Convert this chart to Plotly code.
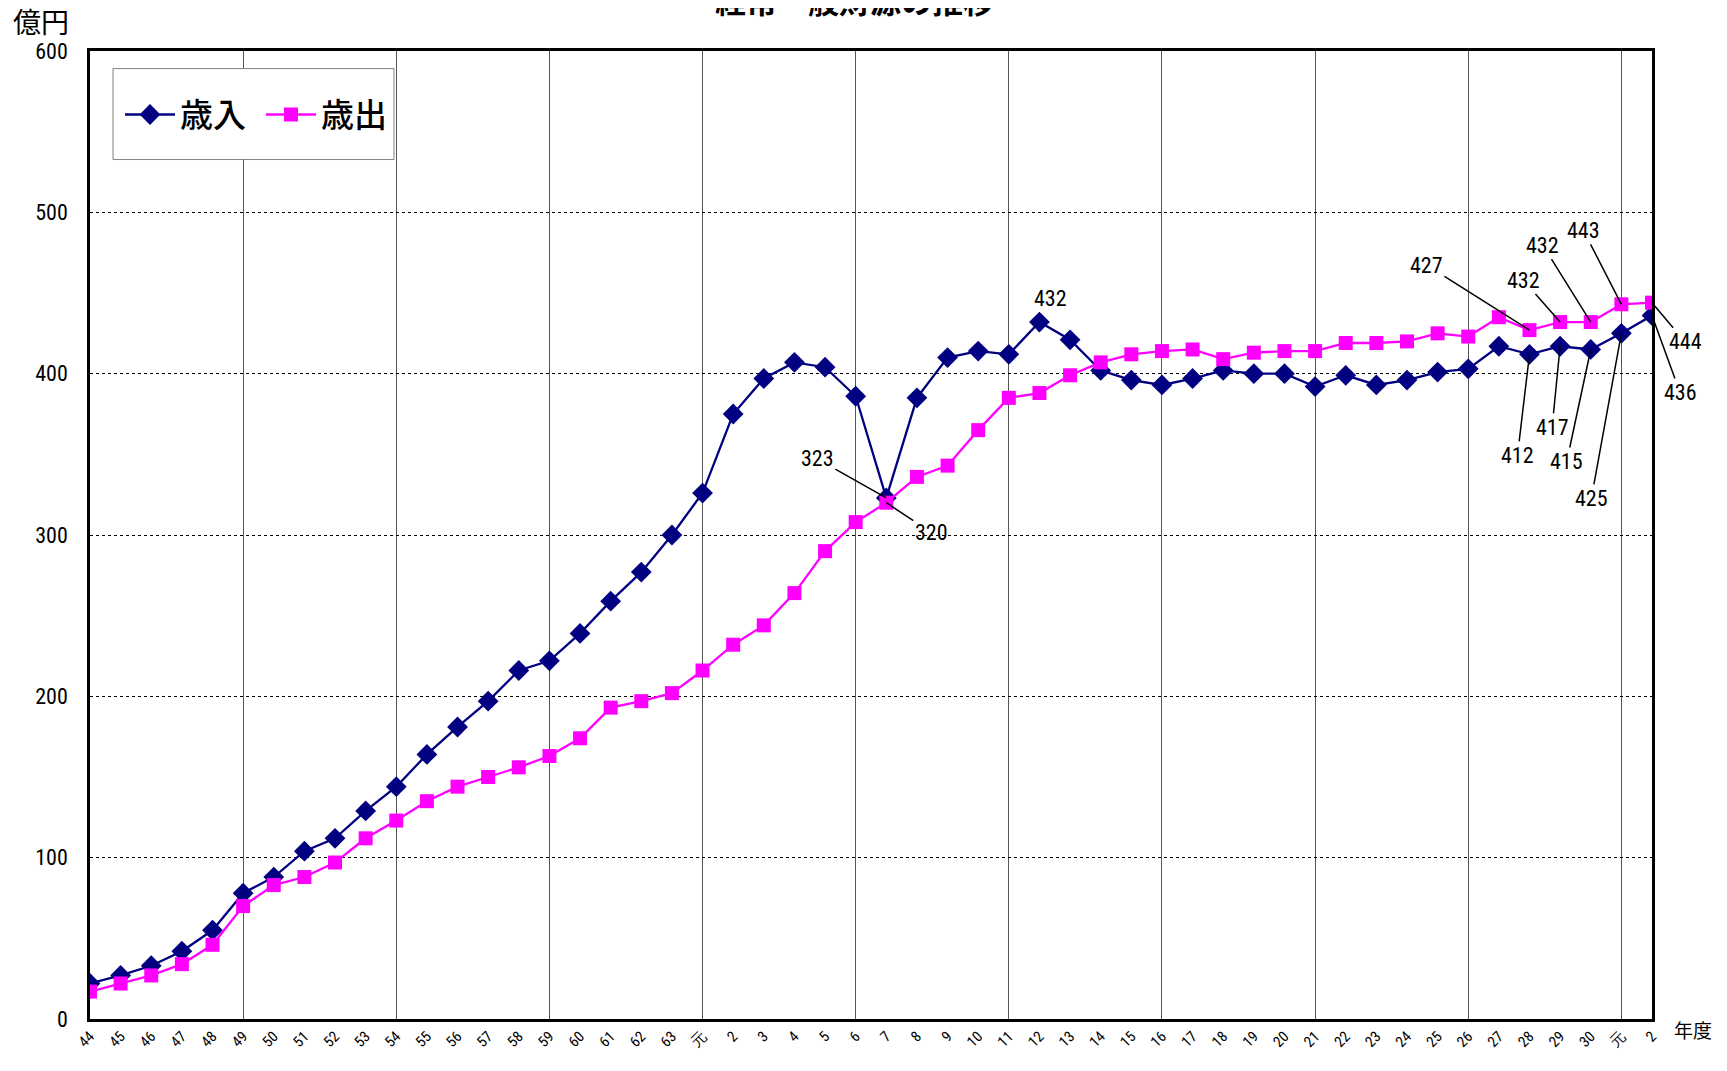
import plotly.graph_objects as go

labels = (["44", "45", "46", "47", "48", "49", "50", "51", "52", "53", "54", "55", "56", "57", "58", "59",
           "60", "61", "62", "63", "元", "2", "3", "4", "5", "6", "7", "8", "9", "10", "11", "12", "13",
           "14", "15", "16", "17", "18", "19", "20", "21", "22", "23", "24", "25", "26", "27", "28", "29",
           "30", "元", "2"])

revenue = [22, 27, 33, 42, 55, 78, 88, 104, 112, 129, 144, 164, 181, 197, 216, 222,
           239, 259, 277, 300, 326, 375, 397, 407, 404, 386, 323, 385, 410, 414, 412, 432, 421,
           402, 396, 393, 397, 402, 400, 400, 392, 399, 393, 396, 401, 403, 417, 412, 417,
           415, 425, 436]

expenditure = [17, 22, 27, 34, 46, 70, 83, 88, 97, 112, 123, 135, 144, 150, 156, 163,
               174, 193, 197, 202, 216, 232, 244, 264, 290, 308, 320, 336, 343, 365, 385, 388, 399,
               407, 412, 414, 415, 409, 413, 414, 414, 419, 419, 420, 425, 423, 435, 427, 432,
               432, 443, 444]

x = list(range(len(labels)))

# callouts: (index, dx, dy) in pixels
rev_callouts = [(26, -69, -39), (47, -12, 101), (48, -8, 81), (49, -24, 112), (50, -30, 165), (51, 28, 77)]
exp_callouts = [(26, 45, 30), (47, -103, -65), (48, -37, -42), (49, -48, -77), (50, -38, -74), (51, 33, 39)]

NUM_FAMILY = "Roboto Condensed, Noto Sans ExtraCondensed, Noto Sans Condensed, Liberation Sans Narrow, DejaVu Sans Condensed, Noto Sans, sans-serif"
num_font = dict(family=NUM_FAMILY, size=22, color="black")
jp_font = "Noto Sans CJK JP, sans-serif"

W, H = 1711, 1055
L, R, T, B = 82, 67, 43, 22
PW, PH = W - L - R, H - T - B


def px(xpix):
    return (xpix - L) / PW


def py(ypix):
    return 1 - (ypix - T) / PH


fig = go.Figure()
fig.add_trace(go.Scatter(x=x, y=revenue, name="歳入", mode="lines+markers",
                         line=dict(color="#000080", width=2.3),
                         marker=dict(symbol="diamond", size=16, color="#000080")))
fig.add_trace(go.Scatter(x=x, y=expenditure, name="歳出", mode="lines+markers",
                         line=dict(color="#FF00FF", width=2.3),
                         marker=dict(symbol="square", size=14, color="#FF00FF")))

ann = []
for i, dx, dy in rev_callouts:
    ann.append(dict(x=x[i], y=revenue[i], xref="x", yref="y", text=str(revenue[i]), showarrow=True,
                    arrowhead=0, arrowwidth=1.5, arrowcolor="black", ax=dx, ay=dy, font=num_font,
                    standoff=0))
for i, dx, dy in exp_callouts:
    ann.append(dict(x=x[i], y=expenditure[i], xref="x", yref="y", text=str(expenditure[i]), showarrow=True,
                    arrowhead=0, arrowwidth=1.5, arrowcolor="black", ax=dx, ay=dy, font=num_font,
                    standoff=0))
ann.append(dict(x=x[31], y=revenue[31], xref="x", yref="y", text=str(revenue[31]), showarrow=False,
                xshift=11, yshift=24, font=num_font))
ann.append(dict(x=px(1685), y=py(1044), xref="paper", yref="paper", text="年度", showarrow=False,
                xanchor="center", yanchor="middle", font=dict(family=jp_font, size=19, color="black")))
ann.append(dict(x=px(3), y=py(12), xref="paper", yref="paper", text="億円", showarrow=False,
                xanchor="left", yanchor="middle", font=dict(family=jp_font, size=28, color="black")))
ann.append(dict(x=px(846), y=py(-10), xref="paper", yref="paper", text="<b>経常一般財源の推移</b>",
                showarrow=False, xanchor="center", yanchor="middle",
                font=dict(family=jp_font, size=31, color="black")))

fig.update_layout(
    width=W, height=H,
    margin=dict(l=L, r=R, t=T, b=B),
    paper_bgcolor="white", plot_bgcolor="white",
    annotations=ann,
    shapes=[dict(type="rect", xref="paper", yref="paper", x0=px(105), x1=px(386), y0=py(154), y1=py(61),
                 line=dict(color="#808080", width=1), fillcolor="white", layer="above")],
    showlegend=True,
    legend=dict(x=px(112), y=py(108), xanchor="left", yanchor="middle", orientation="h",
                bgcolor="rgba(0,0,0,0)", borderwidth=0,
                font=dict(family=jp_font, size=33, color="black", weight=500),
                itemwidth=50, tracegroupgap=0, entrywidth=76, entrywidthmode="pixels"),
    xaxis=dict(range=[0, 51], tickmode="array", tickvals=x, ticktext=labels, tickangle=-45,
               showgrid=False, zeroline=False, showline=True, mirror=True, linecolor="black", linewidth=2.5,
               ticks="", tickfont=dict(family=NUM_FAMILY, size=15, color="black"),
               minor=dict(tickmode="array", tickvals=list(range(0, 52, 5)), showgrid=True,
                          gridcolor="#555555", gridwidth=1, ticks="")),
    yaxis=dict(range=[0, 600], dtick=100, showgrid=True, gridcolor="black", gridwidth=1, griddash="dot",
               zeroline=False, showline=True, mirror=True, linecolor="black", linewidth=2.5, ticks="",
               ticklabelstandoff=15,
               tickfont=dict(family=NUM_FAMILY, size=22, color="black")),
)

fig.write_html("out.html")
